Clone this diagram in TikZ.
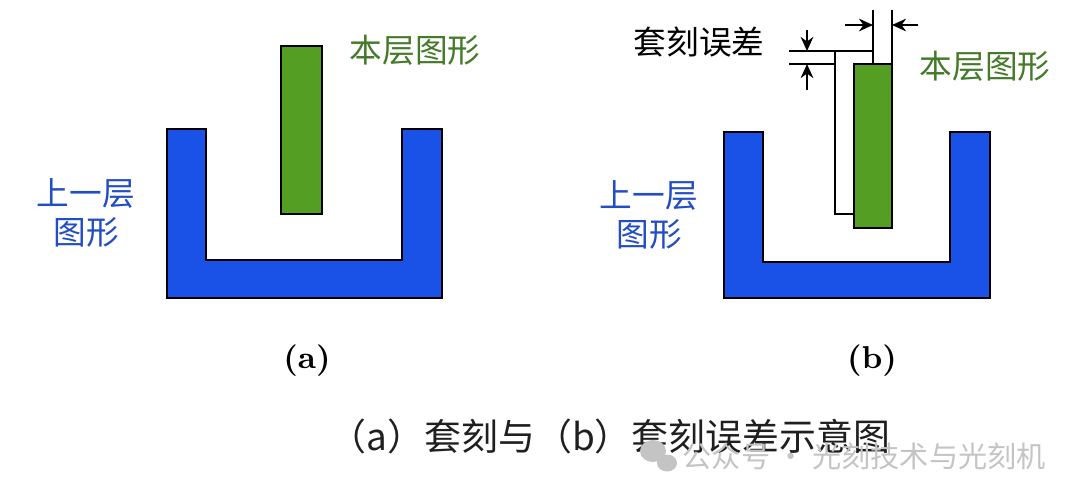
\documentclass[tikz,border=0pt]{standalone}
\usepackage{fontspec}
\usepackage{xcolor}
\newfontfamily\cjk{Noto Sans CJK SC}
\usetikzlibrary{calc,
	positioning,
	arrows.meta}
\definecolor{layerblue}{RGB}{26,82,232}
\definecolor{curgreen}{RGB}{84,158,36}
\definecolor{txtblue}{RGB}{35,78,195}
\definecolor{txtgreen}{RGB}{68,122,40}
\definecolor{wmgray}{RGB}{196,196,196}

\begin{document}
\begin{tikzpicture}[x=0.1cm, y=-0.1cm,
	prev/.style={draw=black, line width=0.7pt, fill=layerblue},
	curr/.style={draw=black, line width=0.7pt, fill=curgreen},
	dimline/.style={line width=0.6pt},
	dimarrow/.style={line width=0.6pt, -{Stealth[length=4pt,width=3.6pt]}},
	lbl/.style={font=\cjk\fontsize{9.3}{11}\selectfont, inner sep=0pt, align=center}]
	\useasboundingbox (0,0) rectangle (108,49.6);
	% (a)
	\draw[prev] (16.7,12.9) -- (20.6,12.9) -- (20.6,26.0) -- (40.2,26.0) -- (40.2,12.9)
		-- (44.2,12.9) -- (44.2,29.8) -- (16.7,29.8) -- cycle;
	\draw[curr] (28.1,4.6) rectangle (32.2,21.4);
	\node[lbl, text=txtgreen] (curA) at (41.5,5.0) {本层图形};
	\node[lbl, text=txtblue] (prevA) at (8.6,21.3) {上一层\\图形};
	% (b)
	\draw[prev] (72.4,13.2) -- (76.3,13.2) -- (76.3,26.2) -- (95.0,26.2) -- (95.0,13.2)
		-- (99.0,13.2) -- (99.0,29.8) -- (72.4,29.8) -- cycle;
	\coordinate (oldNW) at (83.5,5.1);
	\coordinate (oldSE) at (87.3,21.4);
	\coordinate (newNW) at (85.4,6.4);
	\coordinate (newSE) at (89.2,22.8);
	\draw[dimline, fill=white] (oldNW) rectangle (oldSE);
	\draw[curr] (newNW) rectangle (newSE);
	\draw[dimline] (oldNW) -- ++(-4.6,0);
	\draw[dimline] (oldNW|-newNW) -- ++(-4.6,0);
	\draw[dimline] (oldSE|-oldNW) -- ++(0,-4.1);
	\draw[dimline] (newSE|-newNW) -- ++(0,-5.4);
	\coordinate (vtop) at (80.7,3.0);
	\coordinate (vbot) at (80.7,9.0);
	\coordinate (hleft) at (84.5,2.5);
	\coordinate (hright) at (91.8,2.5);
	\draw[dimarrow] (vtop) -- (vtop|-oldNW);
	\draw[dimarrow] (vbot) -- (vbot|-newNW);
	\draw[dimarrow] (hleft) -- (hleft-|oldSE);
	\draw[dimarrow] (hright) -- (hright-|newSE);
	\node[lbl] (errB) at (69.9,4.2) {套刻误差};
	\node[lbl, text=txtgreen] (curB) at (98.5,6.6) {本层图形};
	\node[lbl, text=txtblue] (prevB) at (64.9,21.5) {上一层\\图形};
	% sub captions
	\foreach \lab/\xx in {a/30.7, b/87.2}
		\node[font=\bfseries\fontsize{9}{11}\selectfont] (cap\lab) at (\xx,36.1) {(\lab)};
	\node[font=\cjk\fontsize{10.5}{12}\selectfont, text=black!88] (title) at (61.0,43.6)
		{（a）套刻与（b）套刻误差示意图};
	% watermark
	\fill[wmgray] (65.3,45.1) ellipse (1.3 and 1.1);
	\fill[wmgray] (66.7,46.3) ellipse (1.0 and 0.85);
	\node[font=\cjk\fontsize{8.3}{10}\selectfont, text=wmgray, anchor=west, inner sep=0pt] (wmark) at (68.2,45.6)
		{公众号 · 光刻技术与光刻机};
\end{tikzpicture}
\end{document}
